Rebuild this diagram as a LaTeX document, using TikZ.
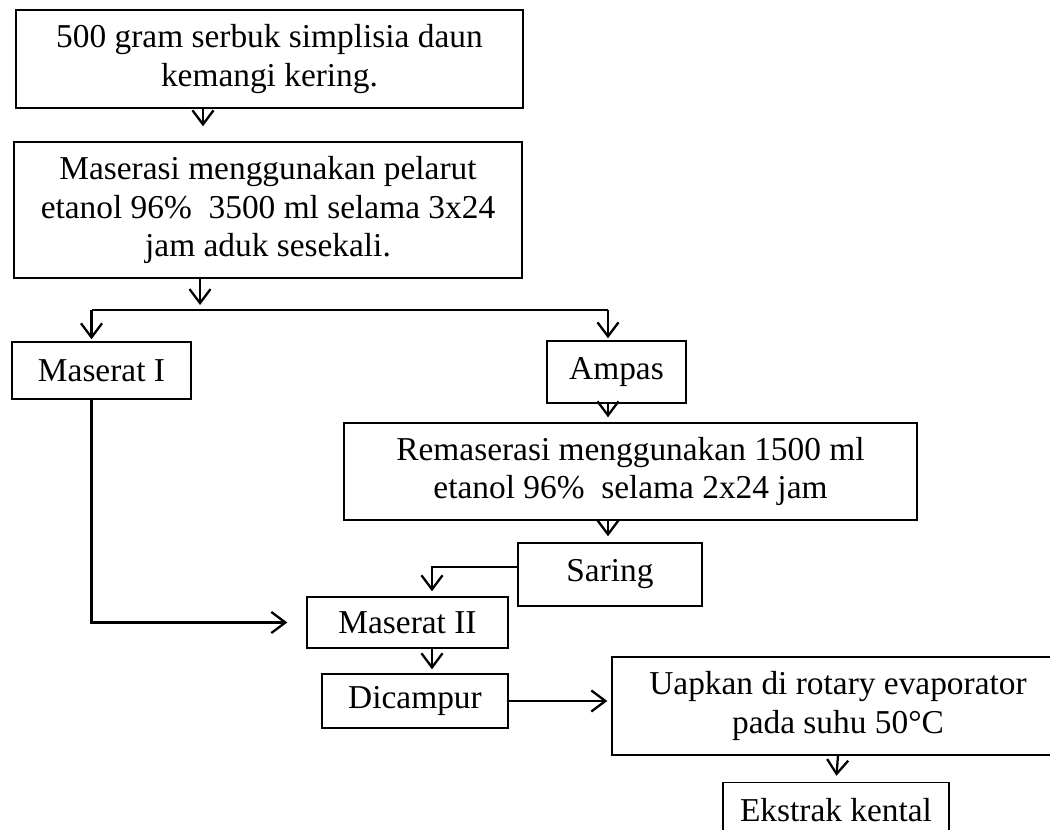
\documentclass[tikz,border=0pt]{standalone}
\usepackage{fontspec}
\setmainfont{Liberation Serif}
\usepackage{tikz}
\usetikzlibrary{arrows.meta}

\begin{document}
\begin{tikzpicture}[
    box/.style={draw, line width=0.8pt, rectangle, inner sep=0pt, align=center,
      font={\fontsize{19}{23}\selectfont\baselineskip=22pt}},
    arr/.style={line width=1.3pt, -{Straight Barb[length=8pt,width=12pt,line width=1.3pt]}},
    line/.style={line width=1.3pt}
  ]
  \clip (0,0) rectangle (21,-16.6);
  % define the columns
  \coordinate (c1) at (4.06,0);
  \coordinate (fork) at (4.0,-6.2);
  \coordinate (colL) at (1.83,0);
  \coordinate (colR) at (12.16,0);
  \coordinate (colM) at (8.64,0);
  % draw the boxes
  \node[box, minimum width=10.14cm, minimum height=1.96cm] (b1) at (5.39,-1.18)
    {500 gram serbuk simplisia daun\\kemangi kering.};
  \node[box, minimum width=10.16cm, minimum height=2.72cm] (b2) at (5.36,-4.2)
    {Maserasi menggunakan pelarut\\etanol 96\%\enspace 3500 ml selama 3x24\\jam aduk sesekali.};
  \node[box, minimum width=3.58cm, minimum height=1.14cm] (m1) at (2.03,-7.41) {Maserat I};
  \node[box, minimum width=2.78cm, minimum height=1.24cm] (amp) at (12.33,-7.44) {Ampas};
  \node[box, minimum width=11.46cm, minimum height=1.94cm] (rem) at (12.61,-9.43)
    {Remaserasi menggunakan 1500 ml\\etanol 96\%\enspace selama 2x24 jam};
  \node[box, minimum width=3.68cm, minimum height=1.26cm] (sar) at (12.2,-11.49) {Saring};
  \node[box, minimum width=4.02cm, minimum height=1.02cm] (m2) at (8.15,-12.45) {Maserat II};
  \node[box, minimum width=3.72cm, minimum height=1.08cm] (dic) at (8.3,-14.02) {Dicampur};
  \node[box, minimum width=9.04cm, minimum height=1.96cm] (uap) at (16.76,-14.12)
    {Uapkan di rotary evaporator\\pada suhu 50\textdegree C};
  \node[box, minimum width=4.52cm, minimum height=1.1cm] (eks) at (16.72,-16.2) {Ekstrak kental};
  % draw the arrows
  \draw[arr, shorten >=0.3cm] (b1.south -| c1) -- (b2.north -| c1);
  \draw[arr, shorten >=0.1cm] (b2.south -| fork) -- (fork);
  \draw[line] (fork -| colL) -- (fork -| colR);
  \draw[arr, shorten >=0.04cm] (fork -| colL) -- (m1.north -| colL);
  \draw[arr, shorten >=0.04cm] (fork -| colR) -- (amp.north -| colR);
  \draw[arr, shorten >=0.1cm] (amp.south -| colR) -- (rem.north -| colR);
  \draw[arr, shorten >=0.12cm] (rem.south -| colR) -- (sar.north -| colR);
  \draw[arr, shorten >=0.38cm] (m1.south -| colL) |- (m2.west);
  \draw[arr, shorten >=0.1cm] ([yshift=0.15cm]sar.west) -| (m2.north -| colM);
  \draw[arr, shorten >=0.08cm] (m2.south -| colM) -- (dic.north -| colM);
  \draw[arr, shorten >=0.08cm] (dic.east) -- (dic.east -| uap.west);
  \draw[arr, shorten >=0.12cm] (uap.south) -- (eks.north);
\end{tikzpicture}
\end{document}
